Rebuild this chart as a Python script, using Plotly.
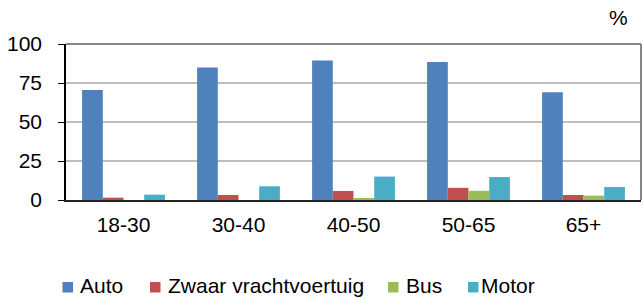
import plotly.graph_objects as go

categories = ["18-30", "30-40", "40-50", "50-65", "65+"]
auto = [70.5, 85, 89.5, 88.5, 69]
zwaar = [1.5, 3.2, 5.8, 7.8, 3.2]
bus = [0, 0, 0.7, 5.9, 2.8]
motor = [3.4, 8.8, 15, 14.7, 8.3]
series_names = ["Auto", "Zwaar vrachtvoertuig", "Bus", "Motor"]
series_colors = ["#4F81BD", "#C0504D", "#9BBB59", "#4BACC6"]
y_ticks = [0, 25, 50, 75, 100]

FONT = "Liberation Sans, Arial, sans-serif"
FS = 21

# plot area in pixels
L, R, T, B = 66, 3, 44, 98
W, H = 644, 298
PW, PH = W - L - R, H - T - B


def px(x):
    return (x - L) / PW


def py(y):
    return (H - B - y) / PH


fig = go.Figure()
for name, vals, col in zip(series_names, [auto, zwaar, bus, motor], series_colors):
    fig.add_trace(go.Bar(x=categories, y=vals, name=name, marker_color=col,
                         marker_line_width=0, showlegend=False))

# manual legend (squares + labels) at the bottom
legend_sq_x = [62.5, 150, 388, 468]
legend_tx_x = [78, 166, 404, 479]
shapes = [
    dict(type="line", xref="paper", yref="paper", x0=0, x1=1, y0=1, y1=1,
         line=dict(color="#868686", width=2), layer="above"),
    dict(type="line", xref="paper", yref="paper", x0=1, x1=1, y0=0, y1=1,
         line=dict(color="#868686", width=2), layer="above"),
]
annotations = [dict(text="%", xref="paper", yref="paper", x=px(618), y=py(17.5),
                    xanchor="center", yanchor="middle", showarrow=False,
                    font=dict(size=FS))]
for name, col, sx, tx in zip(series_names, series_colors, legend_sq_x, legend_tx_x):
    shapes.append(dict(type="rect", xref="paper", yref="paper",
                       x0=px(sx), x1=px(sx + 10.5), y0=py(292.5), y1=py(282),
                       fillcolor=col, line=dict(width=0)))
    annotations.append(dict(text=name, xref="paper", yref="paper", x=px(tx), y=py(285),
                            xanchor="left", yanchor="middle", showarrow=False,
                            font=dict(size=FS)))

fig.update_layout(
    width=W, height=H,
    margin=dict(l=L, r=R, t=T, b=B, pad=0),
    paper_bgcolor="white", plot_bgcolor="white",
    barmode="group", bargap=0.28, bargroupgap=0,
    font=dict(family=FONT, size=FS, color="black"),
    showlegend=False,
    shapes=shapes,
    annotations=annotations,
)
fig.update_xaxes(showline=True, linecolor="#222222", linewidth=2, ticks="",
                 showgrid=False, tickfont=dict(size=FS), ticklabelstandoff=5)
fig.update_yaxes(range=[0, 100], tickvals=y_ticks, showline=True, linecolor="black",
                 linewidth=1.5, ticks="outside", ticklen=6, tickcolor="black",
                 showgrid=True, gridcolor="#BEBEBE", gridwidth=2, zeroline=False,
                 tickfont=dict(size=FS), ticklabelstandoff=12)

fig.write_html("out.html", config={"displayModeBar": False},
               post_script="document.body.style.margin='0';document.body.style.padding='0';")
